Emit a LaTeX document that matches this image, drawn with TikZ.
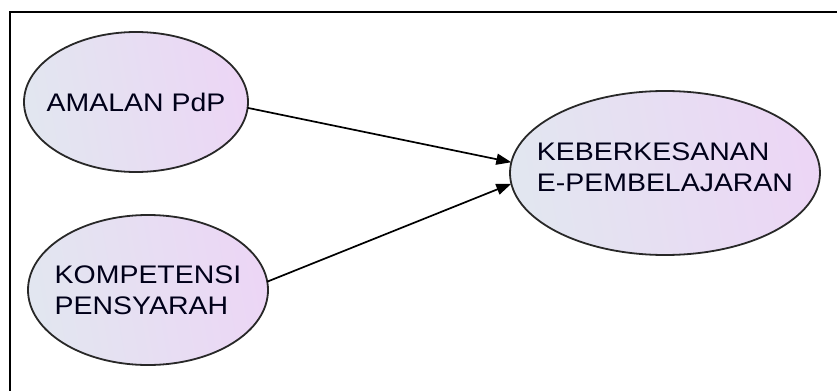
\documentclass[tikz,border=0pt]{standalone}
\usepackage{fontspec}
\setmainfont{Liberation Sans}[FakeStretch=1.12]
\usepackage{tikz}
\usetikzlibrary{calc,shapes,arrows.meta}

\definecolor{blobleft}{RGB}{226,230,240}
\definecolor{blobright}{RGB}{236,214,245}
\definecolor{blobline}{RGB}{40,40,40}

\tikzset{
  blob/.style={ellipse,draw=blobline,line width=0.9pt,inner sep=0pt,outer sep=0pt,
    left color=blobleft,right color=blobright,shading angle=100},
  blobtext/.style={align=left,inner sep=0pt,text=black!90!blue,
    font=\fontsize{12.7pt}{15.7pt}\selectfont},
  link/.style={-{Triangle[length=7.5pt,width=5.5pt]},line width=0.85pt}
}

\begin{document}
\begin{tikzpicture}[x=0.5pt,y=-0.5pt]
  \useasboundingbox (0,0) rectangle (837,391);

  %% Frame round the picture (cut off right and below)
  \draw[line width=1pt] (9.5,395) -- (9.5,12) -- (840,12);

  %% The three constructs
  \node[blob,minimum width=112pt,minimum height=70pt] (amalan) at (136,102) {};
  \node[blobtext] (amalantext) at (amalan) {AMALAN PdP};

  \node[blob,minimum width=120pt,minimum height=75pt] (kompetensi) at (148,290) {};
  \node[blobtext] (kompetensitext) at (kompetensi) {KOMPETENSI\\PENSYARAH};

  \node[blob,minimum width=155pt,minimum height=82pt] (keberkesanan) at (665,173) {};
  \node[blobtext] (keberkesanantext) at ($(keberkesanan)+(0,-6)$) {KEBERKESANAN\\E-PEMBELAJARAN};

  %% Paths
  \draw[link] (amalan.-3) -- (keberkesanan.176);
  \draw[link] (kompetensi.4) -- (keberkesanan.184);
\end{tikzpicture}
\end{document}
